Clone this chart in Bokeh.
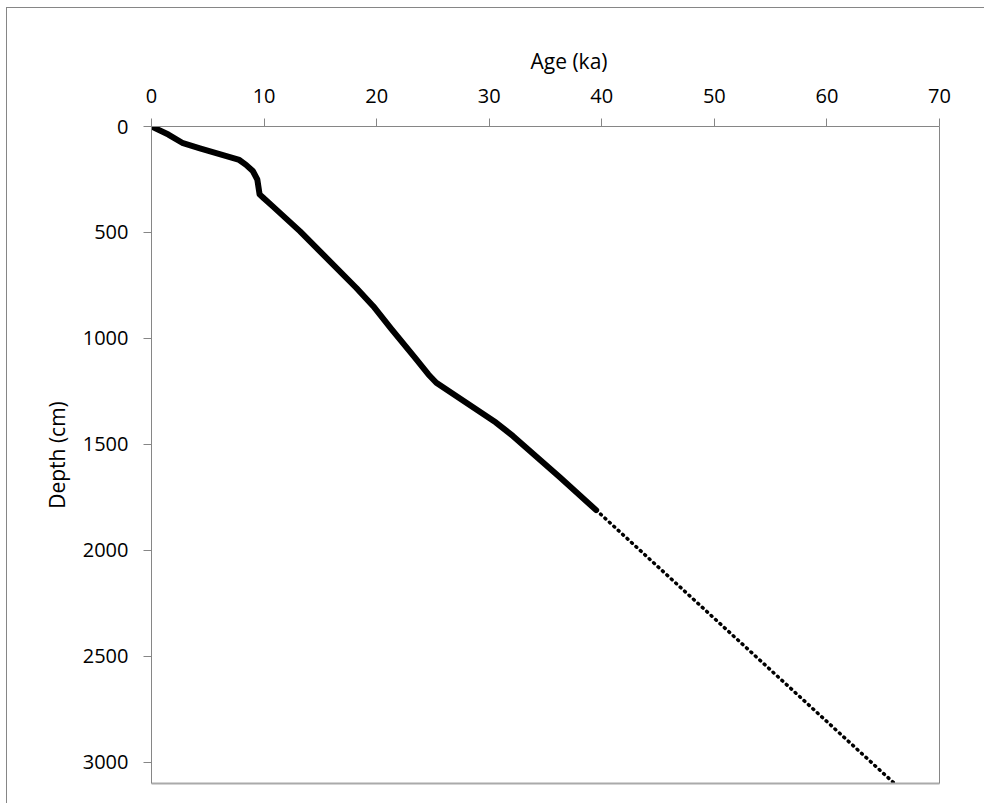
from bokeh.plotting import figure
from bokeh.models import Range1d, LinearAxis, FixedTicker, Title
from bokeh.embed import file_html
from bokeh.resources import INLINE

# Age-depth model (solid)
age_solid = [0.0, 1.5, 2.8, 4.3, 7.8, 8.4, 9.0, 9.4, 9.6, 10.0, 10.8, 13.2, 18.2, 19.7,
             21.3, 23.4, 24.6, 25.3, 30.6, 32.1, 36.3, 39.5]
depth_solid = [0, 38, 79, 103, 158, 181, 210, 250, 320, 340, 378, 495, 762, 848,
               955, 1091, 1170, 1209, 1397, 1460, 1656, 1810]

# Extrapolation (dotted)
age_extrap = [39.5, 66.0]
depth_extrap = [1810, 3100]

age_ticks = [0, 10, 20, 30, 40, 50, 60, 70]
depth_ticks = [0, 500, 1000, 1500, 2000, 2500, 3000]

FONT = "Open Sans"
AXIS_COLOR = "#868686"

p = figure(frame_width=788, frame_height=657,
           x_range=Range1d(0, 70), y_range=Range1d(3100, 0),
           x_axis_location="above",
           output_backend="svg", toolbar_location=None,
           min_border_left=144, min_border_top=118,
           min_border_right=45, min_border_bottom=20)
p.outline_line_color = None
p.grid.visible = False
p.background_fill_color = "white"
p.border_fill_color = "white"
p.styles = {"border-top": "1px solid #868686", "border-left": "1px solid #868686",
            "margin-top": "7px", "margin-left": "6px"}

p.xaxis.ticker = FixedTicker(ticks=age_ticks)
p.yaxis.ticker = FixedTicker(ticks=depth_ticks)
for ax in (p.xaxis, p.yaxis):
    ax.axis_line_color = AXIS_COLOR
    ax.major_tick_line_color = AXIS_COLOR
    ax.major_tick_out = 8
    ax.major_tick_in = 0
    ax.minor_tick_line_color = None
    ax.major_label_text_font = FONT
    ax.major_label_text_font_size = "20px"
    ax.major_label_text_color = "black"
p.xaxis.major_label_standoff = 16
p.yaxis.major_label_standoff = 15

p.yaxis.axis_label = "Depth (cm)"
p.yaxis.axis_label_text_font = FONT
p.yaxis.axis_label_text_font_size = "21px"
p.yaxis.axis_label_text_font_style = "normal"
p.yaxis.axis_label_text_color = "black"
p.yaxis.axis_label_standoff = 9

# right and bottom frame lines
right_ax = LinearAxis(ticker=FixedTicker(ticks=[]), major_label_text_font_size="0px",
                      axis_line_color=AXIS_COLOR, major_tick_line_color=None,
                      minor_tick_line_color=None)
bottom_ax = LinearAxis(ticker=FixedTicker(ticks=[]), major_label_text_font_size="0px",
                       axis_line_color="#aaaaaa", axis_line_width=2,
                       major_tick_line_color=None, minor_tick_line_color=None)
p.add_layout(right_ax, "right")
p.add_layout(bottom_ax, "below")

p.add_layout(Title(text="Age (ka)", align="left", offset=379, standoff=22,
                   text_font=FONT, text_font_size="21px", text_font_style="normal",
                   text_color="black"), "above")

p.line(age_solid, depth_solid, line_color="black", line_width=6,
       line_join="round", line_cap="round")
p.line(age_extrap, depth_extrap, line_color="black", line_width=3.5,
       line_dash="1 5", line_cap="round")

open("out.html", "w").write(file_html(p, INLINE))
